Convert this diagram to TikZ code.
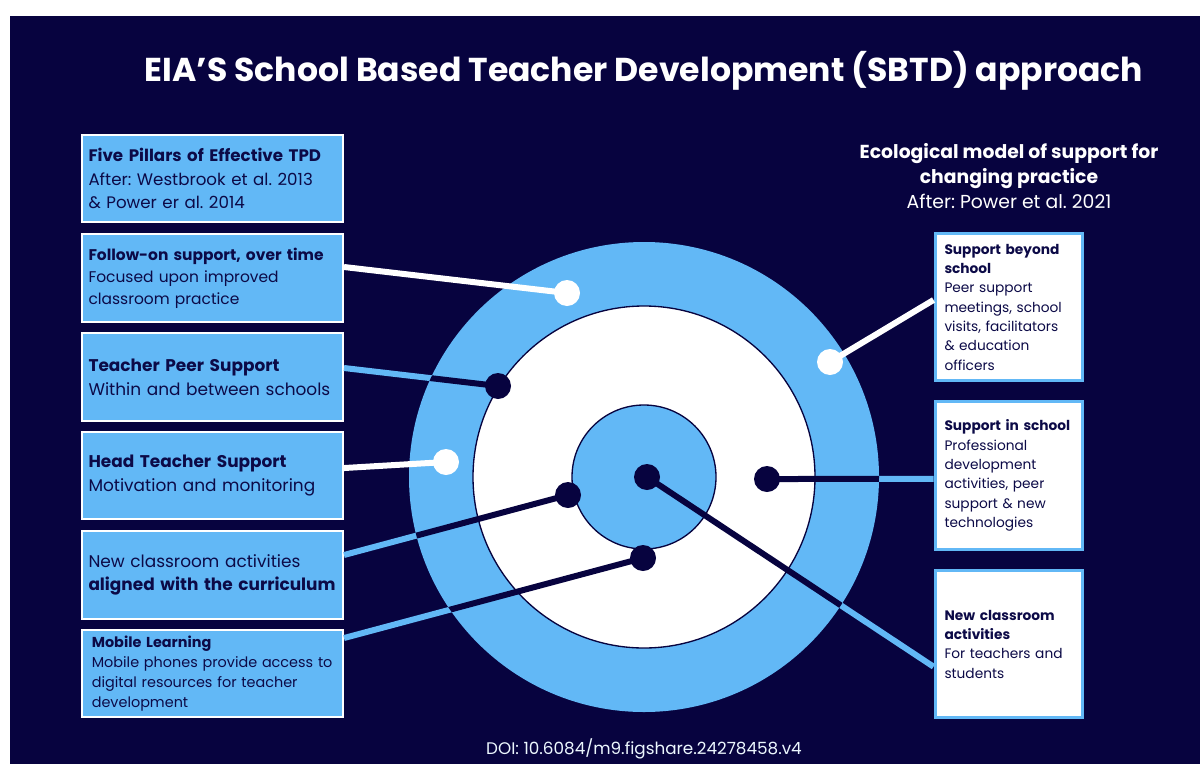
\documentclass[tikz,border=0pt]{standalone}
\usepackage{fontspec}
\setmainfont{Poppins}
\usepackage{tikz}
\frenchspacing

\definecolor{eianavy}{HTML}{07033F}
\definecolor{eiablue}{HTML}{62B8F6}
\definecolor{eiatext}{HTML}{0C0A47}

\tikzset{
  pillar/.style={draw=white, line width=1.5pt, fill=eiablue, text=eiatext,
    minimum width=195.75pt, minimum height=65.6pt, text width=186pt,
    inner xsep=4.5pt, align=left, font=\fontsize{12.7}{17.8}\selectfont},
  ecobox/.style={draw=eiablue, line width=2.25pt, fill=white, text=eiatext,
    minimum width=110.25pt, minimum height=110.6pt, text width=96pt,
    inner xsep=7pt, align=left, font=\fontsize{10.3}{14.5}\selectfont},
  ringdot/.style={circle, inner sep=0pt, minimum size=19.5pt},
  bluelink/.style={eiablue, line width=4.5pt},
  darklink/.style={eianavy, line width=4.5pt},
  whitelink/.style={white, line width=4.5pt}
}

\begin{document}
\begin{tikzpicture}[x=0.75pt, y=-0.75pt]

% Page and background
\fill[white] (0,0) rectangle (1200,764);
\fill[eianavy] (10,16) rectangle (1200,764);

% Title
\node[white, font=\fontsize{24.8}{28}\selectfont\bfseries] (title) at (644,71)
{EIA’S School Based Teacher Development (SBTD) approach};

% Five pillars (left column)
\node[pillar, font=\fontsize{12.5}{17.6}\selectfont] (b1) at (212.5,178.5)
{\textbf{Five Pillars of Effective TPD}\\After: Westbrook et al. 2013\\\& Power er al. 2014};
\node[pillar, font=\fontsize{11.6}{16.5}\selectfont] (b2) at (212.5,278)
{\textbf{Follow-on support, over time}\\Focused upon improved\\classroom practice};
\node[pillar] (b3) at (212.5,377)
{\textbf{Teacher Peer Support}\\Within and between schools};
\node[pillar] (b4) at (212.5,475.5)
{\textbf{Head Teacher Support}\\Motivation and monitoring};
\node[pillar] (b5) at (212.5,575)
{New classroom activities\\\textbf{aligned with the curriculum}};
\node[pillar, inner xsep=7pt, text width=181pt, font=\fontsize{10.8}{15}\selectfont] (b6) at (212.5,673.5)
{\textbf{Mobile Learning}\\Mobile phones provide access to\\digital resources for teacher\\development};

% Ecological model (right column)
\node[white, align=center, font=\fontsize{14.1}{19}\selectfont] (eco) at (1009,176)
{\textbf{Ecological model of support for}\\\textbf{changing practice}\\After: Power et al. 2021};

\node[ecobox] (r1) at (1008.5,307)
{\textbf{Support beyond}\\\textbf{school}\\Peer support\\meetings, school\\visits, facilitators\\\& education\\officers};
\node[ecobox] (r2) at (1008.5,475.5)
{\textbf{Support in school}\\Professional\\development\\activities, peer\\support \& new\\technologies};
\node[ecobox] (r3) at (1008.5,644)
{\textbf{New classroom}\\\textbf{activities}\\For teachers and\\students};

% Dot positions
\coordinate (w1) at (567,293);
\coordinate (w2) at (830,362);
\coordinate (w3) at (446,462);
\coordinate (k1) at (498,386);
\coordinate (k2) at (647,477);
\coordinate (k3) at (767,479);
\coordinate (k4) at (568,495);
\coordinate (k5) at (643,558);

% Links outside the rings
\draw[bluelink] ([yshift=6.75pt]b3.east) -- (k1);
\draw[bluelink] ([yshift=15pt]b5.east) -- (k4);
\draw[bluelink] ([yshift=26.6pt]b6.east) -- (k5);
\draw[bluelink] ([yshift=-2.6pt]r2.west) -- (k3);
\draw[bluelink] ([yshift=-17pt]r3.west) -- (k2);

% Rings
\fill[eiablue] (644,477) circle [radius=235];
\filldraw[fill=white, draw=eianavy, line width=1pt] (644,477) circle [radius=171];
\filldraw[fill=eiablue, draw=eianavy, line width=1pt] (644,477) circle [radius=72];

% Links inside the rings
\begin{scope}
\clip (644,477) circle [radius=235];
\draw[darklink] ([yshift=6.75pt]b3.east) -- (k1);
\draw[darklink] ([yshift=15pt]b5.east) -- (k4);
\draw[darklink] ([yshift=26.6pt]b6.east) -- (k5);
\draw[darklink] ([yshift=-2.6pt]r2.west) -- (k3);
\draw[darklink] ([yshift=-17pt]r3.west) -- (k2);
\end{scope}

\draw[whitelink] ([yshift=8.25pt]b2.east) -- (w1);
\draw[whitelink] ([yshift=5.6pt]b4.east) -- (w3);
\draw[whitelink] ([yshift=5.25pt]r1.west) -- (w2);

% Dots
\node[ringdot, fill=white] (dw1) at (w1) {};
\node[ringdot, fill=white] (dw2) at (w2) {};
\node[ringdot, fill=white] (dw3) at (w3) {};
\node[ringdot, fill=eianavy] (dk1) at (k1) {};
\node[ringdot, fill=eianavy] (dk2) at (k2) {};
\node[ringdot, fill=eianavy] (dk3) at (k3) {};
\node[ringdot, fill=eianavy] (dk4) at (k4) {};
\node[ringdot, fill=eianavy] (dk5) at (k5) {};

% Source
\node[white!88!eiablue, font=\fontsize{12.6}{14}\selectfont] (doi) at (644,749)
{DOI: 10.6084/m9.figshare.24278458.v4};

\end{tikzpicture}
\end{document}
